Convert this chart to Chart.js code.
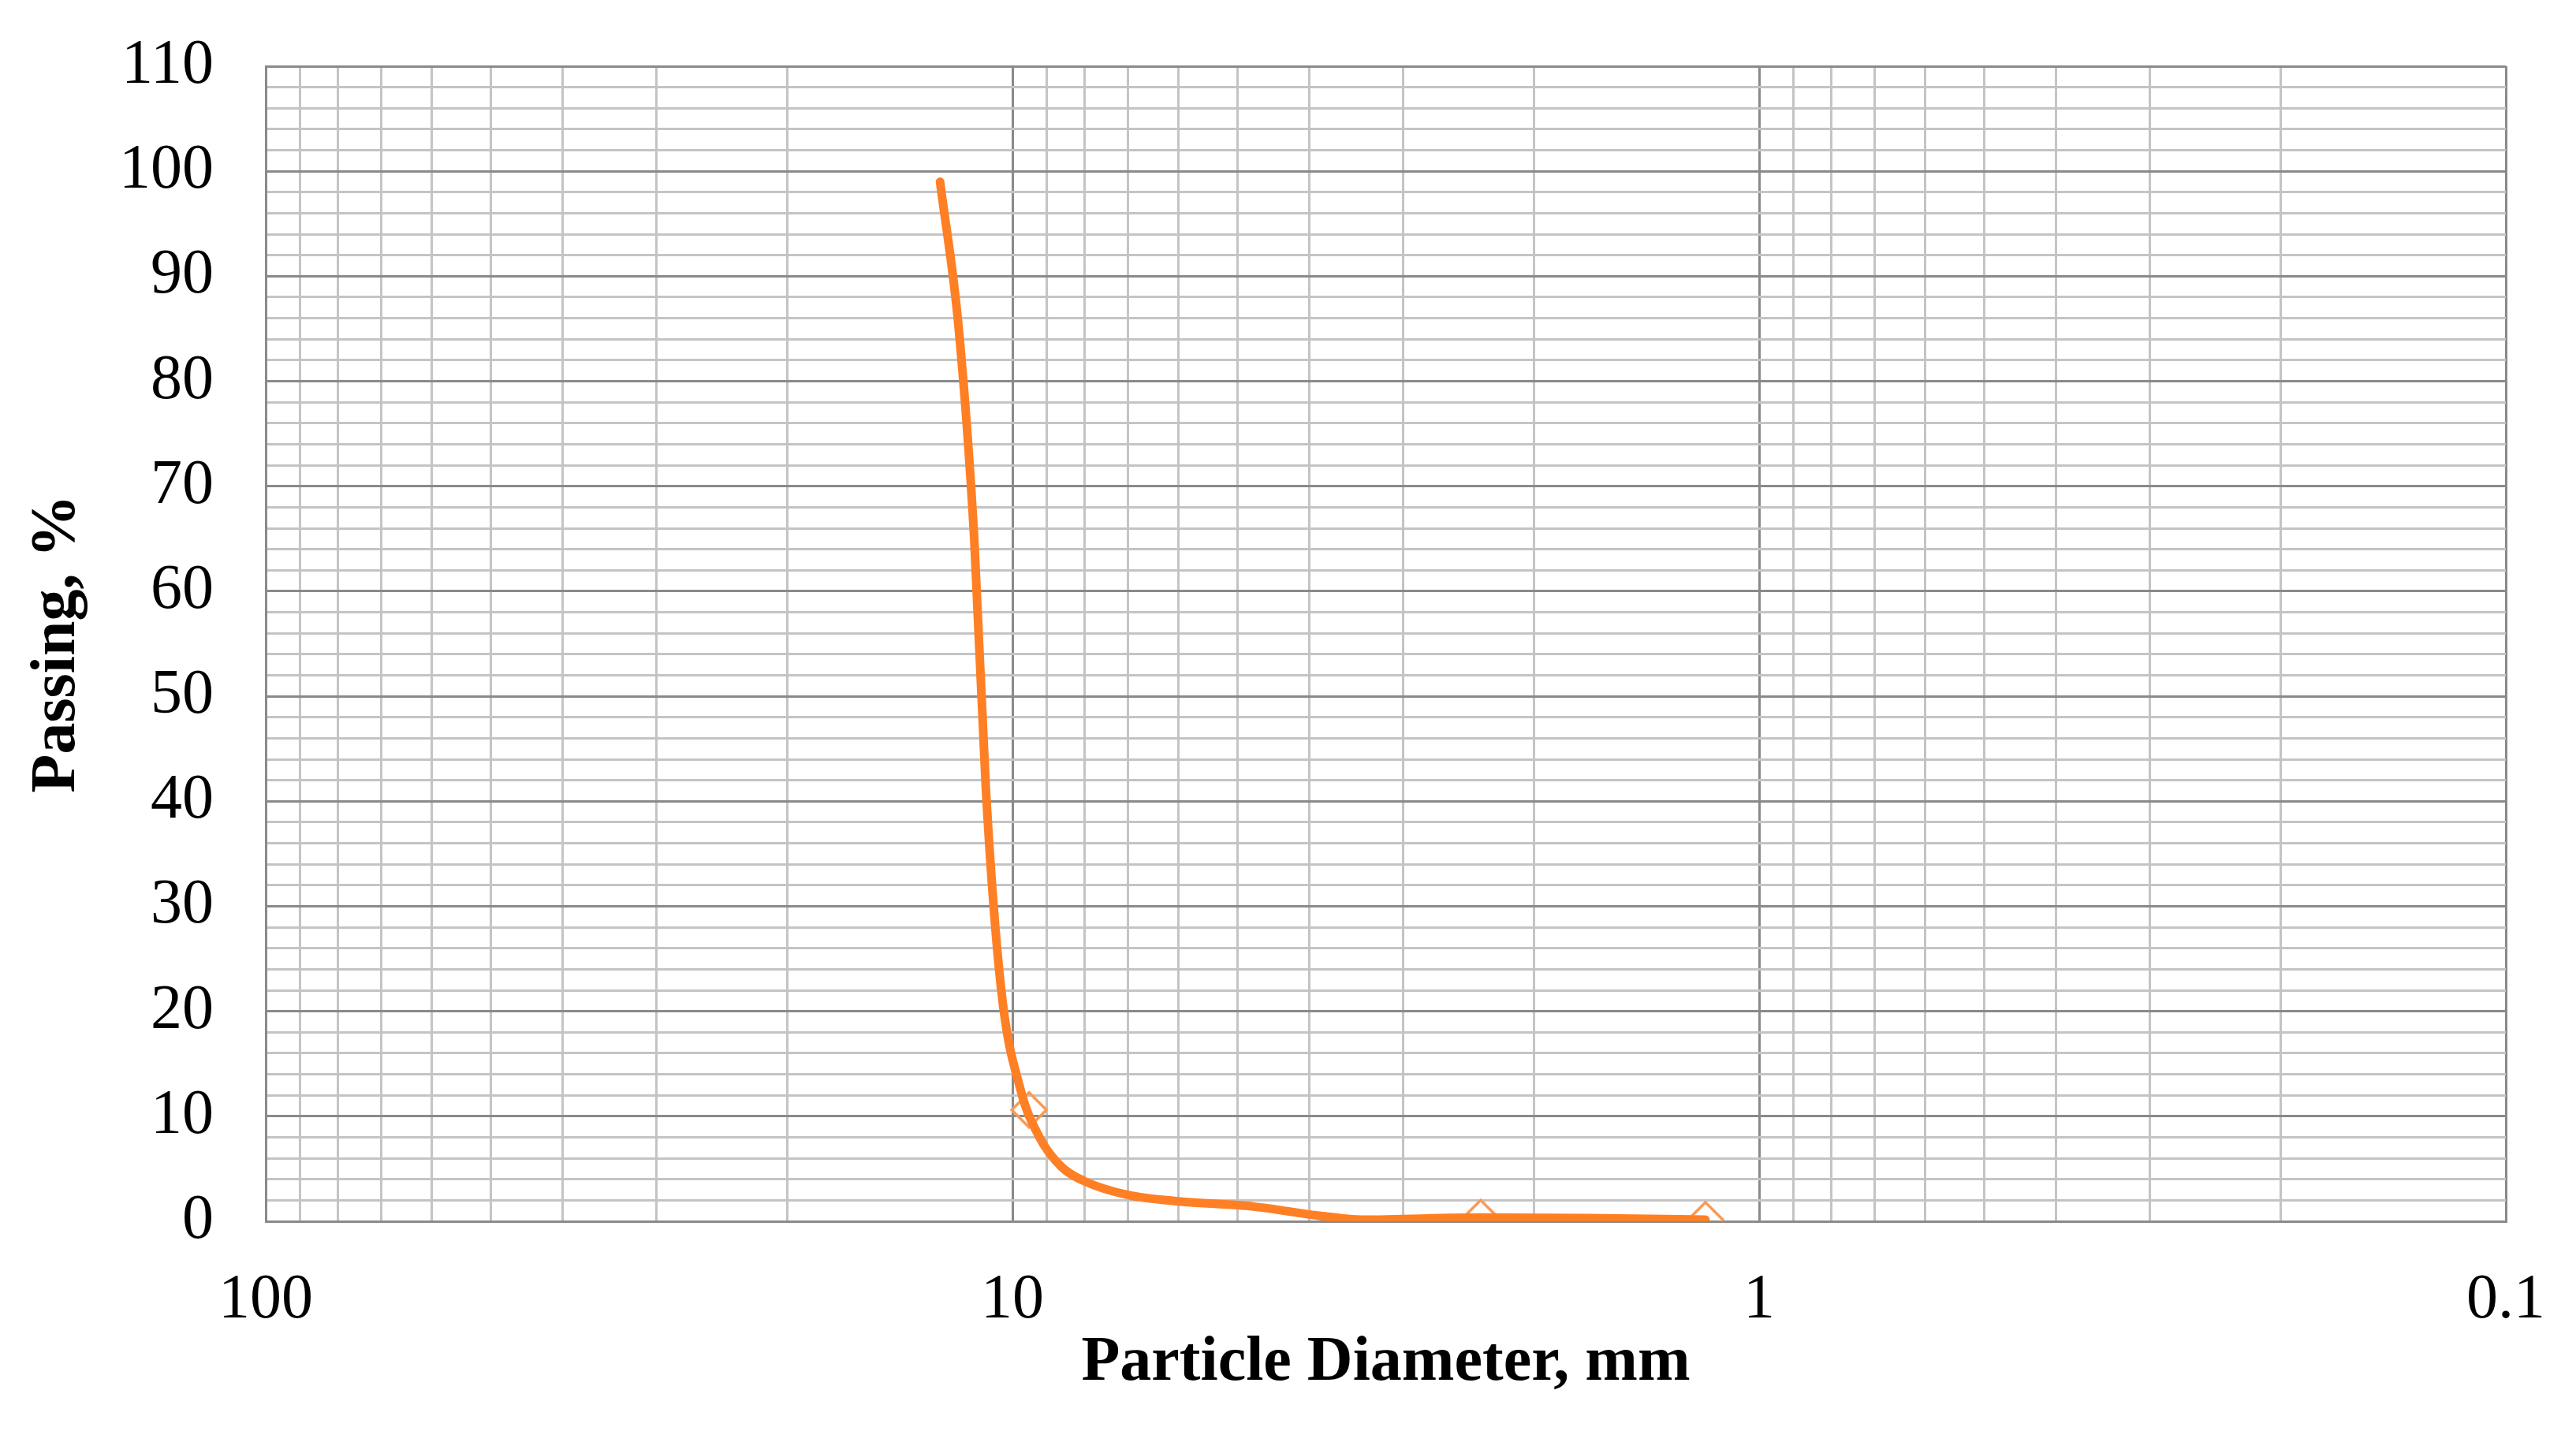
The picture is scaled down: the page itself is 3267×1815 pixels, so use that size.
<!DOCTYPE html>
<html>
<head>
<meta charset="utf-8">
<script src="https://cdn.jsdelivr.net/npm/chart.js@4.4.1/dist/chart.umd.min.js"></script>
<style>
  html, body { margin: 0; padding: 0; background: #ffffff; }
  #wrap { width: 3267px; height: 1815px; }
</style>
</head>
<body>
<div id="wrap"><canvas id="c" width="3267" height="1815"></canvas></div>
<script>
// ---- Data ----
const curveDiameters = [12.5, 11.8, 11.25, 10.85, 10.35, 9.75, 9.2, 8.6, 8.0, 7.0, 6.0, 4.75, 3.9, 3.4, 2.36, 1.7, 1.18];
const curvePassing   = [99, 85, 65, 41, 22, 12.5, 8.0, 5.2, 3.8, 2.5, 1.9, 1.4, 0.55, 0.15, 0.35, 0.3, 0.15];

const markerDiameters = [9.5, 2.36, 1.18];
const markerPassing   = [10.6, 0.35, 0.15];

const xMajorLabels = [100, 10, 1, 0.1];
const yLabelStep = 10;
const yMin = 0, yMax = 110, yGridStep = 2;
const xMin = 0.1, xMax = 100;

const xTitle = 'Particle Diameter, mm';
const yTitle = 'Passing, %';

// ---- Build grid tick values (1..9 per decade) ----
const xGridValues = [];
for (let e = -1; e <= 1; e++) {
  for (let m = 1; m <= 9; m++) xGridValues.push(+(m * Math.pow(10, e)).toPrecision(6));
}
xGridValues.push(100);
const yGridValues = [];
for (let v = yMin; v <= yMax; v += yGridStep) yGridValues.push(v);

const isMajorX = v => xMajorLabels.some(m => Math.abs(m - v) < 1e-9);

const curvePts = curveDiameters.map((d, i) => ({ x: d, y: curvePassing[i] }));
const markerPts = markerDiameters.map((d, i) => ({ x: d, y: markerPassing[i] }));

const FONT = "'Liberation Serif', 'Times New Roman', serif";
const MAJOR = '#8a8a8a', MINOR = '#c4c4c4';

new Chart(document.getElementById('c'), {
  type: 'scatter',
  data: {
    datasets: [
      {
        label: 'markers',
        data: markerPts,
        showLine: false,
        pointStyle: 'rectRot',
        pointRadius: 22,
        pointBorderWidth: 3.5,
        pointBorderColor: '#F99A55',
        pointBackgroundColor: 'rgba(0,0,0,0)',
        order: 2
      },
      {
        label: 'curve',
        data: curvePts,
        showLine: true,
        borderColor: '#FF7F24',
        borderWidth: 11,
        pointRadius: 0,
        cubicInterpolationMode: 'monotone',
        borderCapStyle: 'round',
        borderJoinStyle: 'round',
        order: 1
      }
    ]
  },
  options: {
    responsive: false,
    animation: false,
    devicePixelRatio: 1,
    layout: { padding: { left: 0, right: 89, top: 84, bottom: 0 } },
    plugins: { legend: { display: false }, tooltip: { enabled: false } },
    scales: {
      x: {
        type: 'logarithmic',
        reverse: true,
        min: xMin,
        max: xMax,
        afterBuildTicks: axis => { axis.ticks = xGridValues.map(v => ({ value: v })); },
        afterFit: scale => { scale.height = 1815 - 1549; scale.paddingLeft = 0; scale.paddingRight = 0; },
        ticks: {
          autoSkip: false,
          maxRotation: 0,
          minRotation: 0,
          padding: 53,
          color: '#000',
          font: { family: FONT, size: 80, lineHeight: 1.2 },
          callback: v => isMajorX(v) ? String(v) : ''
        },
        grid: {
          drawTicks: false,
          lineWidth: 3,
          color: ctx => (ctx.tick && isMajorX(ctx.tick.value)) ? MAJOR : MINOR
        },
        border: { display: true, color: MAJOR, width: 3 },
        title: {
          display: true,
          text: xTitle,
          color: '#000',
          font: { family: FONT, size: 80, weight: 'bold', lineHeight: 1.2 },
          padding: { top: 0, bottom: 38 }
        }
      },
      y: {
        type: 'linear',
        min: yMin,
        max: yMax,
        afterBuildTicks: axis => { axis.ticks = yGridValues.map(v => ({ value: v })); },
        afterFit: scale => { scale.width = 337; scale.paddingTop = 0; scale.paddingBottom = 0; },
        ticks: {
          autoSkip: false,
          padding: 66,
          color: '#000',
          font: { family: FONT, size: 80, lineHeight: 1.2 },
          callback: v => (v % yLabelStep === 0) ? String(v) : ''
        },
        grid: {
          drawTicks: false,
          lineWidth: 3,
          color: ctx => (ctx.tick && ctx.tick.value % yLabelStep === 0) ? MAJOR : MINOR
        },
        border: { display: true, color: MAJOR, width: 3 },
        title: {
          display: true,
          text: yTitle,
          color: '#000',
          font: { family: FONT, size: 80, weight: 'bold', lineHeight: 1.2 },
          padding: { top: 25, bottom: 0 }
        }
      }
    }
  }
});
</script>
</body>
</html>
